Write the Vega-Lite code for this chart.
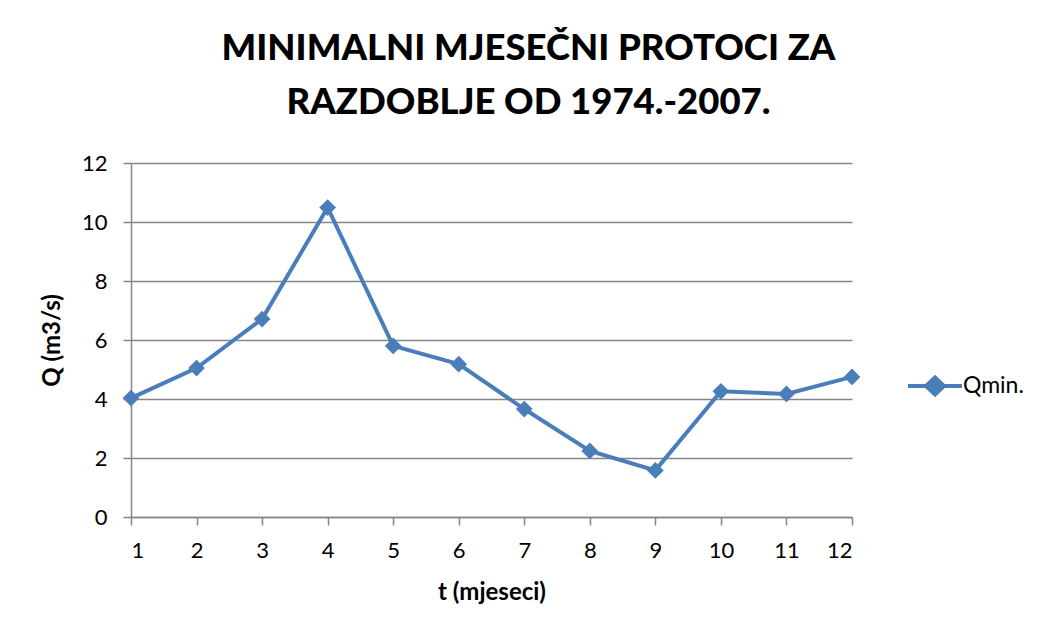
{
  "$schema": "https://vega.github.io/schema/vega-lite/v6.json",
  "width": 721,
  "height": 354,
  "autosize": {"type": "none"},
  "padding": {"left": 131, "top": 163, "right": 197, "bottom": 118},
  "background": "white",
  "title": {
    "text": ["MINIMALNI MJESEČNI PROTOCI ZA", "RAZDOBLJE OD 1974.-2007."],
    "font": "Lato",
    "fontSize": 36.5,
    "fontWeight": 900,
    "color": "#000000",
    "lineHeight": 54,
    "anchor": "middle",
    "dx": 37,
    "offset": 31
  },
  "data": {
    "values": [
      {"t": 1, "Q": 4.03, "series": "Qmin."},
      {"t": 2, "Q": 5.05, "series": "Qmin."},
      {"t": 3, "Q": 6.71, "series": "Qmin."},
      {"t": 4, "Q": 10.49, "series": "Qmin."},
      {"t": 5, "Q": 5.80, "series": "Qmin."},
      {"t": 6, "Q": 5.18, "series": "Qmin."},
      {"t": 7, "Q": 3.66, "series": "Qmin."},
      {"t": 8, "Q": 2.24, "series": "Qmin."},
      {"t": 9, "Q": 1.58, "series": "Qmin."},
      {"t": 10, "Q": 4.26, "series": "Qmin."},
      {"t": 11, "Q": 4.17, "series": "Qmin."},
      {"t": 12, "Q": 4.75, "series": "Qmin."}
    ]
  },
  "mark": {
    "type": "line",
    "strokeWidth": 4,
    "point": {"shape": "diamond", "size": 280, "filled": true, "opacity": 1}
  },
  "encoding": {
    "x": {
      "field": "t",
      "type": "quantitative",
      "scale": {"domain": [1, 12], "nice": false, "zero": false},
      "axis": {
        "values": [1,2,3,4,5,6,7,8,9,10,11,12],
        "grid": false,
        "title": "t (mjeseci)",
        "titleFont": "Lato",
        "titleFontSize": 24,
        "titleFontWeight": "bold",
        "titleColor": "#000000",
        "titlePadding": 19,
        "labelFont": "Lato",
        "labelFontSize": 22,
        "labelColor": "#000000",
        "labelPadding": 15,
        "tickSize": 8,
        "tickColor": "#868686",
        "domainColor": "#868686",
        "tickWidth": 1.5,
        "domainWidth": 1.5
      }
    },
    "y": {
      "field": "Q",
      "type": "quantitative",
      "scale": {"domain": [0, 12], "nice": false},
      "axis": {
        "values": [0,2,4,6,8,10,12],
        "title": "Q   (m3/s)",
        "titleFont": "Lato",
        "titleFontSize": 24,
        "titleFontWeight": "bold",
        "titleColor": "#000000",
        "titlePadding": 17,
        "labelFont": "Lato",
        "labelFontSize": 22,
        "labelColor": "#000000",
        "labelPadding": 16,
        "tickSize": 8,
        "tickColor": "#868686",
        "domainColor": "#868686",
        "tickWidth": 1.5,
        "domainWidth": 1.5,
        "gridColor": "#868686",
        "gridWidth": 1.5
      }
    },
    "color": {
      "field": "series",
      "type": "nominal",
      "scale": {"range": ["#4A7EBB"]},
      "legend": {
        "title": null,
        "orient": "none",
        "legendX": 792,
        "legendY": 211,
        "symbolType": "M-2.7,0H2.7M0,-0.85L0.9,0L0,0.85L-0.9,0Z",
        "symbolSize": 400,
        "symbolStrokeWidth": 4,
        "symbolFillColor": "#4A7EBB",
        "symbolStrokeColor": "#4A7EBB",
        "labelFont": "Lato",
        "labelFontSize": 23,
        "labelColor": "#000000",
        "labelOffset": 16
      }
    }
  },
  "config": {
    "view": {"stroke": null}
  }
}
